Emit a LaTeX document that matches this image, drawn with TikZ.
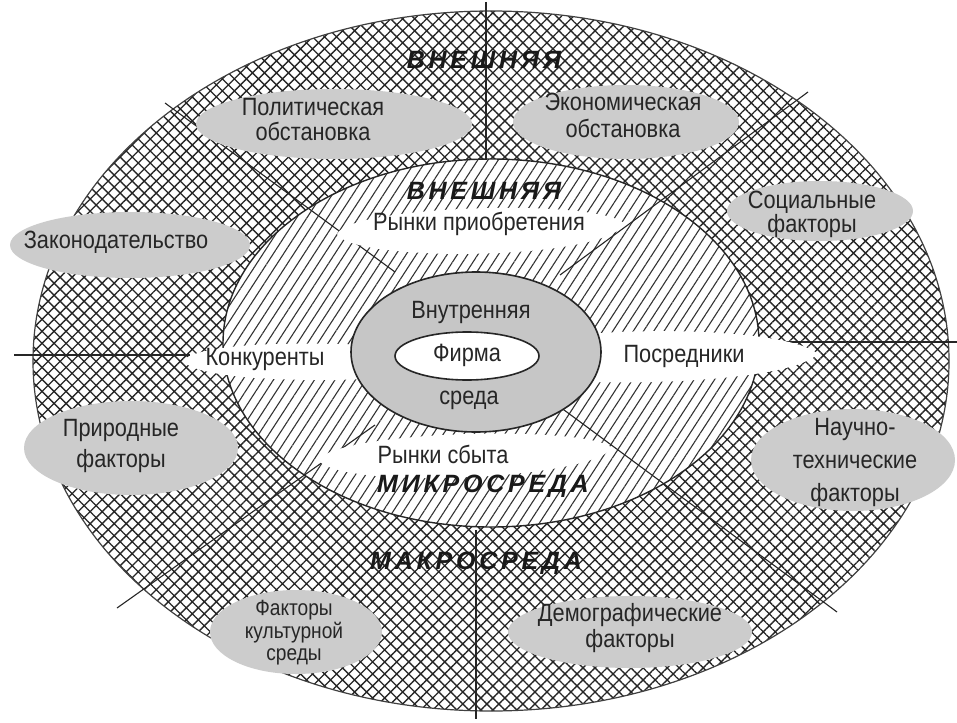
\documentclass[tikz,border=0pt]{standalone}
\usepackage{fontspec}
\setmainfont[FakeStretch=0.87]{Liberation Sans}
\newfontfamily\labfont[LetterSpace=15]{Liberation Sans}
\usetikzlibrary{patterns.meta}
\tikzset{
  txt/.style={font=\fontsize{25}{#1}\selectfont, text=black!85, align=center, inner sep=0pt},
  txt/.default=25,
  smalltxt/.style={font=\fontsize{22}{#1}\selectfont, text=black!85, align=center, inner sep=0pt},
  bigtxt/.style={font=\labfont\bfseries\itshape\fontsize{25}{28}\selectfont, text=black!90, inner sep=0pt},
  macrofill/.style={fill=gray!40},
  blobfill/.style={fill=white},
  radial/.style={draw=black!85, line width=1.1pt},
  cross/.style={pattern={Hatch[angle=45,distance=8.5pt,line width=1.35pt]}, pattern color=black!85},
  diag/.style={pattern={Lines[angle=57,distance=8.6pt,line width=1.1pt]}, pattern color=black!80},
}
\begin{document}
\begin{tikzpicture}[x=1pt,y=-1pt]
\useasboundingbox (0,0) rectangle (957,722);
\fill[white] (0,0) rectangle (957,722);
% outer ring (macro environment)
\path[cross] (491,361) ellipse [x radius=458, y radius=350];
\draw[black!75, line width=1.2pt] (491,361) ellipse [x radius=458, y radius=350];
% middle ring (micro environment)
\fill[white] (491,343) ellipse [x radius=268, y radius=184];
\path[diag] (491,343) ellipse [x radius=268, y radius=184];
\draw[black!85, line width=1.4pt] (491,343) ellipse [x radius=268, y radius=184];
% radial lines
\coordinate (n1) at (486,2);   \coordinate (n2) at (486,160);
\coordinate (s1) at (476,530); \coordinate (s2) at (476,719);
\coordinate (w1) at (14,355);  \coordinate (w2) at (190,355);
\coordinate (e1) at (762,342); \coordinate (e2) at (957,342);
\coordinate (nw1) at (165,103); \coordinate (nw2) at (395,272);
\coordinate (ne1) at (808,92);  \coordinate (ne2) at (560,275);
\coordinate (sw1) at (117,608); \coordinate (sw2) at (375,425);
\coordinate (se1) at (837,612); \coordinate (se2) at (560,407);
\draw[radial] (n1) -- (n2);
\draw[radial] (s1) -- (s2);
\draw[radial] (w1) -- (w2);
\draw[radial] (e1) -- (e2);
\draw[radial] (nw1) -- (nw2);
\draw[radial] (ne1) -- (ne2);
\draw[radial] (sw1) -- (sw2);
\draw[radial] (se1) -- (se2);
% macro factor ellipses
\fill[macrofill] (334,124) ellipse [x radius=138, y radius=35];
\fill[macrofill] (626,122) ellipse [x radius=113, y radius=37];
\fill[macrofill] (820,211) ellipse [x radius=93, y radius=30];
\fill[macrofill] (130,245) ellipse [x radius=120, y radius=33];
\fill[macrofill] (131,448) ellipse [x radius=107, y radius=47];
\fill[macrofill] (853,460) ellipse [x radius=102, y radius=51];
\fill[macrofill] (296,632) ellipse [x radius=86, y radius=42];
\fill[macrofill] (630,632) ellipse [x radius=122, y radius=36];
% white blobs of the micro environment
\fill[blobfill] (337,234) .. controls (350,205) and (600,198) .. (625,224)
                .. controls (600,262) and (350,262) .. (337,234);
\fill[blobfill] (183,361) .. controls (200,340) and (330,343) .. (365,345)
                -- (365,379) .. controls (330,381) and (200,382) .. (183,361);
\fill[blobfill] (590,334) .. controls (650,328) and (790,330) .. (818,354)
                .. controls (790,380) and (650,384) .. (590,382) -- cycle;
\fill[blobfill] (318,460) .. controls (340,430) and (590,425) .. (612,448)
                .. controls (590,480) and (340,490) .. (318,460);
% inner environment
\filldraw[fill=gray!45, draw=black!85, line width=1.6pt] (476,352) ellipse [x radius=125, y radius=80];
\filldraw[fill=white, draw=black!85, line width=1.6pt] (467,356) ellipse [x radius=72, y radius=24];
% labels
\node[bigtxt] (vneshO) at (484,60) {ВНЕШНЯЯ};
\node[bigtxt] (vneshI) at (484,191) {ВНЕШНЯЯ};
\node[bigtxt] (micro) at (483,486) {МИКРОСРЕДА};
\node[bigtxt] (macro) at (476,563) {МАКРОСРЕДА};
\node[txt=25] (pol) at (313,120) {Политическая\\обстановка};
\node[txt=27] (eco) at (623,115) {Экономическая\\обстановка};
\node[txt=22] (soc) at (812,214) {Социальные\\факторы};
\node[txt] (zak) at (116,242) {Законодательство};
\node[txt=31] (pri) at (121,446) {Природные\\факторы};
\node[txt=33] (nau) at (855,462) {Научно-\\технические\\факторы};
\node[smalltxt=22.5] (kul) at (294,633) {Факторы\\культурной\\среды};
\node[txt=26] (dem) at (630,628) {Демографические\\факторы};
\node[txt] (vnut) at (471,312) {Внутренняя};
\node[txt] (sreda) at (469,400) {среда};
\node[txt] (firma) at (467,355) {Фирма};
\node[txt] (konk) at (265,359) {Конкуренты};
\node[txt] (rpr) at (479,224) {Рынки приобретения};
\node[txt] (posr) at (684,356) {Посредники};
\node[txt] (rsb) at (443,454) {Рынки сбыта};
\end{tikzpicture}
\end{document}
